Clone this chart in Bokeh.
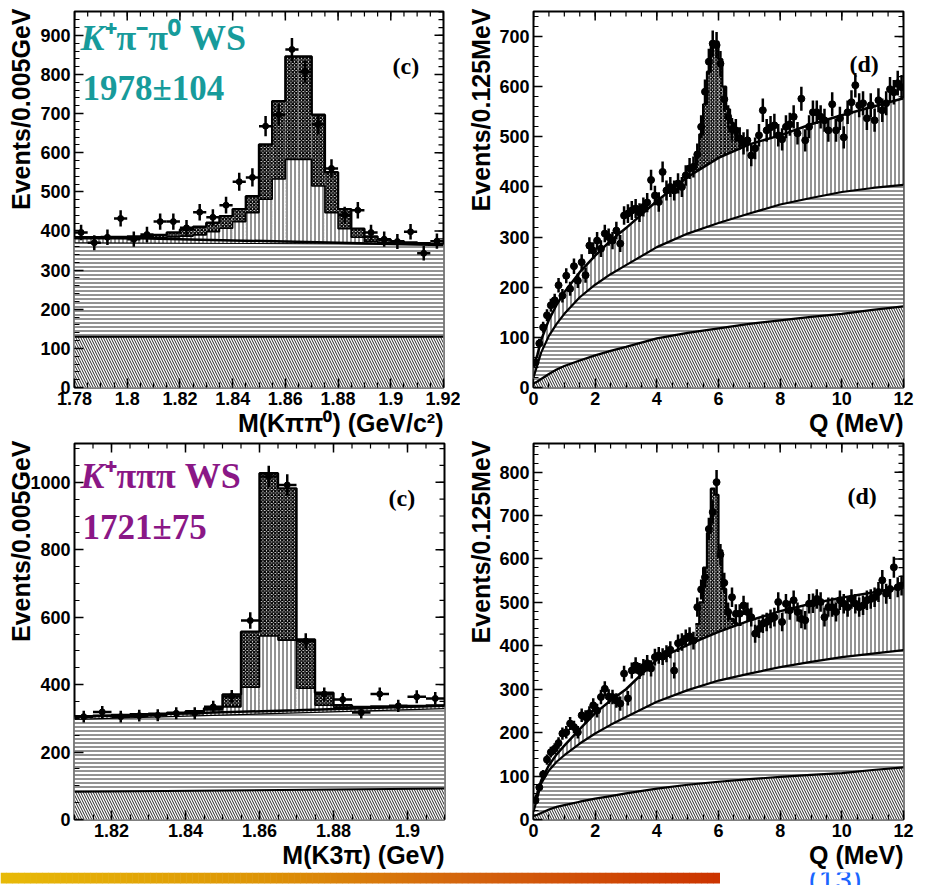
import numpy as np
from bokeh.plotting import figure
from bokeh.models import Range1d, FixedTicker, Label, Title
from bokeh.layouts import column, row
from bokeh.embed import file_html
from bokeh.resources import INLINE

# ---------------- DATA ----------------
# Top-left: M(K pi pi0), 28 bins of 0.005 GeV
tl_range = (1.78, 1.92)
tl_nbins = 28
tl_data = [396, 370, 384, 432, 379, 391, 424, 424, 408, 448, 435, 466, 526, 537,
           668, 697, 864, 807, 673, 560, 441, 453, 396, 379, 373, 398, 343, 374]
tl_total = [384, 384, 385, 385, 386, 387, 390, 396, 404, 411, 421, 438, 456, 489,
            621, 732, 846, 846, 697, 550, 456, 406, 386, 378, 374, 371, 369, 367]
tl_peaking = [380, 380, 380, 380, 381, 382, 383, 385, 387, 390, 398, 407, 424, 447,
              481, 533, 583, 583, 515, 447, 406, 384, 373, 370, 369, 368, 368, 367]
tl_comb_x = [1.78, 1.92]
tl_comb_y = [370, 366]
tl_flat_y = [130, 130]
tl_fit_x = [1.78, 1.80, 1.82, 1.84, 1.86, 1.88, 1.90, 1.92]
tl_fit_y = [384, 382, 379, 376, 373, 370, 367, 364]
tl_xticks = [1.78, 1.80, 1.82, 1.84, 1.86, 1.88, 1.90, 1.92]
tl_xlabels = ["1.78", "1.8", "1.82", "1.84", "1.86", "1.88", "1.9", "1.92"]
tl_yticks = [0, 100, 200, 300, 400, 500, 600, 700, 800, 900]

# Top-right: Q, 96 bins of 0.125 MeV
q_range = (0.0, 12.0)
q_nbins = 96
tr_data = [50, 88, 120, 144, 164, 174, 204, 183, 223, 197, 242, 213, 250, 224, 283, 273,
           293, 277, 307, 300, 293, 313, 287, 343, 347, 353, 357, 349, 360, 369, 414, 383,
           370, 430, 393, 400, 393, 407, 400, 423, 437, 440, 465, 520, 590, 650, 686, 683,
           646, 575, 540, 515, 513, 497, 487, 493, 463, 477, 503, 553, 513, 519, 523, 503,
           495, 520, 525, 540, 507, 576, 493, 520, 549, 549, 540, 533, 513, 565, 513, 537,
           499, 549, 569, 603, 563, 567, 537, 563, 533, 573, 553, 567, 595, 589, 607, 599]
bg_q = [0, 0.125, 0.25, 0.5, 0.75, 1, 1.5, 2, 2.5, 3, 4, 5, 6, 7, 8, 9, 10, 11, 12]
tr_bg_diag = [8, 12, 17, 27, 36, 43, 54, 64, 73, 81, 98, 109, 118, 127, 134, 141, 147, 155, 162]
tr_bg_horiz = [20, 45, 70, 103, 127, 147, 180, 205, 226, 244, 280, 307, 328, 347, 365, 378, 390, 398, 404]
tr_bg_total = [40, 65, 95, 135, 165, 190, 230, 263, 293, 318, 372, 420, 458, 485, 503, 525, 543, 560, 577]
tr_peak_lo = 5.125
tr_peak = [445, 462, 505, 565, 630, 688, 690, 655, 600, 555, 528, 510, 500, 492, 487]
q_xticks = [0, 2, 4, 6, 8, 10, 12]
q_xlabels = ["0", "2", "4", "6", "8", "10", "12"]
tr_yticks = [0, 100, 200, 300, 400, 500, 600, 700]

# Bottom-left: M(K3pi), 20 bins of 0.005 GeV
bl_range = (1.81, 1.91)
bl_nbins = 20
bl_data = [305, 319, 305, 308, 309, 315, 315, 334, 365, 590, 1017, 992, 529, 372,
           356, 317, 372, 337, 364, 359]
bl_total = [306, 308, 310, 312, 314, 317, 321, 330, 371, 557, 1027, 982, 534, 376,
            339, 334, 335, 336, 337, 338]
bl_peaking = [304, 306, 308, 310, 312, 315, 319, 325, 334, 392, 544, 532, 389, 339,
              333, 332, 333, 334, 335, 336]
bl_comb_x = [1.81, 1.91]
bl_comb_y = [297, 329]
bl_flat_y = [82, 92]
bl_fit_x = [1.81, 1.83, 1.85, 1.87, 1.89, 1.91]
bl_fit_y = [305, 311, 318, 324, 331, 337]
bl_xticks = [1.82, 1.84, 1.86, 1.88, 1.90]
bl_xlabels = ["1.82", "1.84", "1.86", "1.88", "1.9"]
bl_yticks = [0, 200, 400, 600, 800, 1000]

# Bottom-right: Q, 96 bins of 0.125 MeV
br_data = [44, 74, 104, 138, 155, 163, 176, 198, 201, 221, 213, 201, 240, 236, 245, 263,
           251, 282, 301, 283, 282, 274, 267, 336, 279, 343, 355, 342, 351, 360, 348, 374,
           378, 375, 382, 391, 343, 406, 409, 417, 422, 412, 489, 530, 558, 669, 708, 777,
           610, 545, 478, 512, 474, 474, 493, 478, 466, 428, 439, 451, 455, 462, 466, 501,
           455, 497, 482, 505, 478, 462, 459, 497, 498, 508, 501, 466, 489, 489, 478, 505,
           497, 489, 508, 497, 489, 493, 505, 508, 512, 524, 551, 520, 531, 581, 535, 539]
br_bg_diag = [8, 11, 15, 23, 29, 33, 41, 48, 54, 60, 71, 80, 87, 93, 98, 103, 107, 114, 120]
br_bg_horiz = [18, 50, 83, 113, 133, 148, 175, 198, 218, 236, 271, 298, 320, 336, 351, 363, 374, 382, 390]
br_bg_total = [38, 62, 90, 125, 150, 170, 208, 245, 274, 300, 368, 402, 432, 458, 480, 497, 511, 523, 536]
br_peak_lo = 5.25
br_peak = [450, 500, 580, 660, 762, 748, 620, 531, 480, 462, 452, 448]
br_yticks = [0, 100, 200, 300, 400, 500, 600, 700, 800]

# ---------------- STYLE ----------------
SANS = "Liberation Sans"
SERIF = "Liberation Serif"
TEAL = "#179b9b"
PURPLE = "#8a1786"
HATCH = dict(hatch_color="black", hatch_weight=1, hatch_alpha=0.85, fill_color="white")
XHATCH = dict(hatch_pattern="diagonal_cross", hatch_scale=3.5, hatch_weight=1.5,
              hatch_color="black", hatch_alpha=1.0, fill_color="white")
MAJ, MIN = 9, 5   # inward tick lengths in pixels


def make_panel(width, height, borders, xr, yr, xt, xl, xminor, yt, yminor, ytitle, xtitle,
               ytitle_standoff):
    bl, br, bt, bb = borders
    p = figure(width=width, height=height, x_range=Range1d(*xr), y_range=Range1d(*yr),
               output_backend="svg", toolbar_location=None,
               min_border_left=bl, min_border_right=br, min_border_top=bt, min_border_bottom=bb,
               background_fill_color="white", border_fill_color="white")
    p.grid.visible = False
    p.outline_line_color = "black"
    p.outline_line_width = 2
    common = dict(axis_line_color=None, major_tick_in=MAJ, major_tick_out=0,
                  minor_tick_in=MIN, minor_tick_out=0, major_tick_line_width=1.5,
                  minor_tick_line_width=1.2)
    xa = p.xaxis[0]
    xa.ticker = FixedTicker(ticks=xt, minor_ticks=xminor)
    xa.major_label_overrides = {t: l for t, l in zip(xt, xl)}
    ya = p.yaxis[0]
    ya.ticker = FixedTicker(ticks=yt, minor_ticks=yminor)
    for ax in (xa, ya):
        for k, v in common.items():
            setattr(ax, k, v)
        ax.major_label_text_font = SANS
        ax.major_label_text_font_style = "bold"
        ax.major_label_text_font_size = "18px"
        ax.major_label_text_color = "black"
        ax.major_label_standoff = 4
    # axis titles (ROOT style: flush with the top / right end of the axis)
    p.add_layout(Title(text=ytitle, align="right", vertical_align="top", offset=-3,
                       standoff=ytitle_standoff, text_font=SANS, text_font_style="bold",
                       text_font_size="25px", text_color="black"), "left")
    p.add_layout(Title(text=xtitle, align="right", offset=0, standoff=-2, text_font=SANS,
                       text_font_style="bold", text_font_size="25px", text_color="black"),
                 "below")
    # mirrored ticks on the top and right frame edges
    fw = width - bl - br
    fh = height - bt - bb
    dx = (xr[1] - xr[0]) / fw
    dy = (yr[1] - yr[0]) / fh
    xt_in = [t for t in xt if xr[0] <= t <= xr[1]]
    xm_in = [t for t in xminor if xr[0] <= t <= xr[1]]
    yt_in = [t for t in yt if yr[0] <= t <= yr[1]]
    ym_in = [t for t in yminor if yr[0] <= t <= yr[1]]
    p.segment(xt_in, yr[1], xt_in, yr[1] - MAJ * dy, color="black", line_width=1.5)
    p.segment(xm_in, yr[1], xm_in, yr[1] - MIN * dy, color="black", line_width=1.2)
    p.segment(xr[1], yt_in, xr[1] - MAJ * dx, yt_in, color="black", line_width=1.5)
    p.segment(xr[1], ym_in, xr[1] - MIN * dx, ym_in, color="black", line_width=1.2)
    return p


def text(p, x, y, s, size, color="black", font=SANS, style="bold", align="left",
         baseline="alphabetic"):
    p.add_layout(Label(x=x, y=y, x_units="canvas", y_units="canvas", text=s,
                       text_font=font, text_font_size=f"{size}px", text_font_style=style,
                       text_color=color, text_align=align, text_baseline=baseline))


def mass_panel(p, rng, nb, data, total, peaking, comb_x, comb_y, flat_y, fit_x, fit_y):
    edges = np.linspace(rng[0], rng[1], nb + 1)
    centers = 0.5 * (edges[:-1] + edges[1:])
    hw = 0.5 * (edges[1] - edges[0])
    p.quad(left=edges[:-1], right=edges[1:], bottom=0, top=total, line_color=None, **XHATCH)
    p.quad(left=edges[:-1], right=edges[1:], bottom=0, top=peaking, line_color=None,
           hatch_pattern="vertical_line", hatch_scale=4, **HATCH)
    p.varea(x=comb_x, y1=0, y2=comb_y, hatch_pattern="horizontal_line", hatch_scale=4, **HATCH)
    p.varea(x=comb_x, y1=0, y2=flat_y, hatch_pattern="left_diagonal_line", hatch_scale=5, **HATCH)
    p.line(comb_x, flat_y, color="black", line_width=2)
    p.line(comb_x, comb_y, color="black", line_width=1.2)
    p.step(edges, list(peaking) + [peaking[-1]], mode="after", color="black", line_width=1.6)
    p.step(edges, list(total) + [total[-1]], mode="after", color="black", line_width=2.4)
    p.line(fit_x, fit_y, color="black", line_width=2.5)
    y = np.array(data, dtype=float)
    e = np.sqrt(y)
    p.segment(centers, y - e, centers, y + e, color="black", line_width=2.5)
    p.segment(centers - hw, y, centers + hw, y, color="black", line_width=2.5)
    p.scatter(centers, y, size=6, color="black")


def q_panel(p, data, bg_d, bg_h, bg_t, peak_lo, peak):
    edges = np.linspace(q_range[0], q_range[1], q_nbins + 1)
    bw = edges[1] - edges[0]
    centers = 0.5 * (edges[:-1] + edges[1:])
    pe = peak_lo + bw * np.arange(len(peak) + 1)
    p.quad(left=pe[:-1], right=pe[1:], bottom=0, top=peak, line_color=None, **XHATCH)
    p.varea(x=bg_q, y1=0, y2=bg_t, hatch_pattern="vertical_line", hatch_scale=4, **HATCH)
    p.varea(x=bg_q, y1=0, y2=bg_h, hatch_pattern="horizontal_line", hatch_scale=4, **HATCH)
    p.varea(x=bg_q, y1=0, y2=bg_d, hatch_pattern="left_diagonal_line", hatch_scale=5, **HATCH)
    p.line(bg_q, bg_d, color="black", line_width=2.2)
    p.line(bg_q, bg_h, color="black", line_width=2.2)
    p.step(pe, list(peak) + [peak[-1]], mode="after", color="black", line_width=2.2)
    p.line(bg_q, bg_t, color="black", line_width=2.5)
    y = np.array(data, dtype=float)
    e = np.sqrt(y)
    p.segment(centers, y - e, centers, y + e, color="black", line_width=2.5)
    p.segment(centers - bw / 2, y, centers + bw / 2, y, color="black", line_width=2)
    p.scatter(centers, y, size=7, color="black")


# ---------------- PANELS ----------------
tl = make_panel(460, 440, (74, 17, 11, 53), tl_range, (0, 961), tl_xticks, tl_xlabels,
                list(np.arange(1.78, 1.9201, 0.005)), tl_yticks, list(range(0, 961, 20)),
                "Events/0.005GeV", "M(Kππ⁰) (GeV/c²)", 2)
mass_panel(tl, tl_range, tl_nbins, tl_data, tl_total, tl_peaking, tl_comb_x, tl_comb_y,
           tl_flat_y, tl_fit_x, tl_fit_y)
text(tl, 80, 37, "K", 36, TEAL, SERIF, "bold italic")
text(tl, 104, 37, "⁺π⁻π⁰ WS", 36, TEAL, SERIF, "bold")
text(tl, 82, 88, "1978±104", 35, TEAL, SERIF, "bold")
text(tl, 392, 65, "(c)", 24, "black", SERIF, "bold")

tr = make_panel(469, 440, (73, 26, 11, 53), q_range, (0, 750), q_xticks, q_xlabels,
                list(np.arange(0, 12.01, 0.5)), tr_yticks, list(range(0, 751, 20)),
                "Events/0.125MeV", "Q (MeV)", 0)
q_panel(tr, tr_data, tr_bg_diag, tr_bg_horiz, tr_bg_total, tr_peak_lo, tr_peak)
text(tr, 389, 63, "(d)", 24, "black", SERIF, "bold")

bl = make_panel(460, 432, (74, 16, 3, 53), bl_range, (0, 1115), bl_xticks, bl_xlabels,
                list(np.arange(1.81, 1.9101, 0.005)), bl_yticks, list(range(0, 1116, 50)),
                "Events/0.005GeV", "M(K3π) (GeV)", -18)
mass_panel(bl, bl_range, bl_nbins, bl_data, bl_total, bl_peaking, bl_comb_x, bl_comb_y,
           bl_flat_y, bl_fit_x, bl_fit_y)
text(bl, 80, 35, "K", 36, PURPLE, SERIF, "bold italic")
text(bl, 104, 35, "⁺πππ WS", 36, PURPLE, SERIF, "bold")
text(bl, 82, 87, "1721±75", 35, PURPLE, SERIF, "bold")
text(bl, 388, 57, "(c)", 24, "black", SERIF, "bold")

br = make_panel(469, 432, (73, 26, 3, 53), q_range, (0, 866), q_xticks, q_xlabels,
                list(np.arange(0, 12.01, 0.5)), br_yticks, list(range(0, 866, 20)),
                "Events/0.125MeV", "Q (MeV)", 0)
q_panel(br, br_data, br_bg_diag, br_bg_horiz, br_bg_total, br_peak_lo, br_peak)
text(br, 387, 55, "(d)", 24, "black", SERIF, "bold")

# ---------------- DECORATION (slide footer) ----------------
deco = figure(width=929, height=13, x_range=Range1d(0, 929), y_range=Range1d(0, 13),
              output_backend="svg", toolbar_location=None, x_axis_type=None, y_axis_type=None,
              min_border=0, outline_line_color=None, background_fill_color="white",
              border_fill_color="white")
deco.grid.visible = False
stops_t = [0.0, 0.35, 0.65, 1.0]
stops_c = [(232, 186, 8), (222, 150, 6), (212, 100, 14), (204, 52, 0)]
nseg = 120
xs = np.linspace(0, 719, nseg + 1)
t = 0.5 * (xs[:-1] + xs[1:]) / 719
cols = []
for tt in t:
    r = np.interp(tt, stops_t, [c[0] for c in stops_c])
    g = np.interp(tt, stops_t, [c[1] for c in stops_c])
    b = np.interp(tt, stops_t, [c[2] for c in stops_c])
    cols.append("#%02x%02x%02x" % (int(r), int(g), int(b)))
deco.quad(left=xs[:-1], right=xs[1:] + 0.5, bottom=2, top=13, fill_color=cols, line_color=None)
deco.add_layout(Label(x=808, y=-10, text="(13)", text_font="Liberation Sans",
                      text_font_size="30px", text_color="#1a66ff"))

layout = column(row(tl, tr), row(bl, br), deco)
open("out.html", "w").write(file_html(layout, INLINE))
